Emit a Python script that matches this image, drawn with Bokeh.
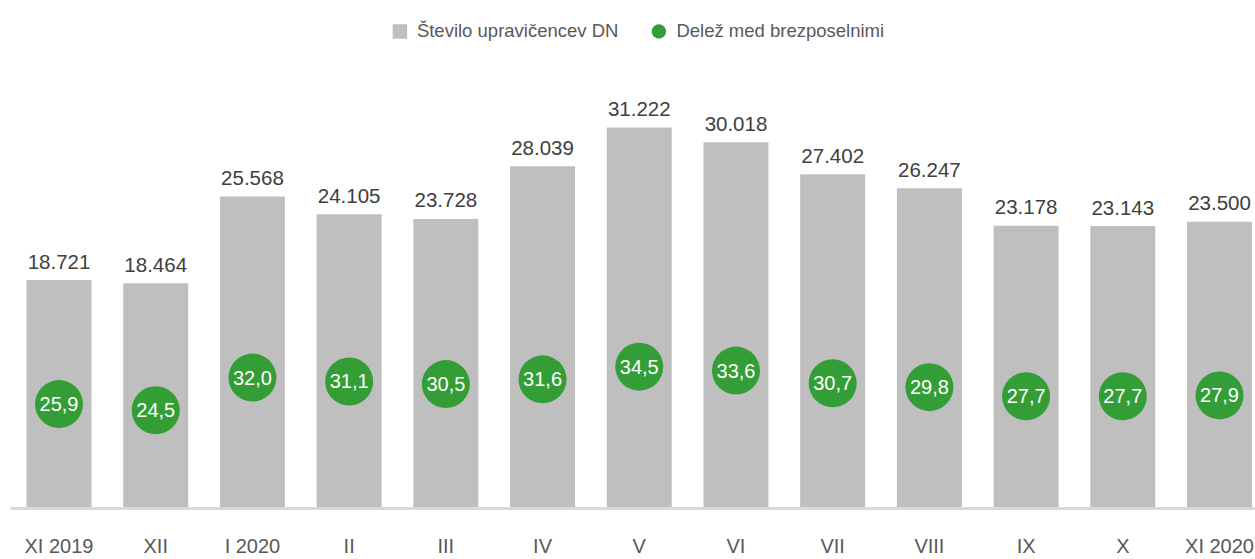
import numpy as np
from bokeh.plotting import figure
from bokeh.models import Range1d, FixedTicker, ColumnDataSource, Legend, LegendItem
from bokeh.core.properties import value
from bokeh.embed import file_html
from bokeh.resources import INLINE

categories = ["XI 2019", "XII", "I 2020", "II", "III", "IV", "V", "VI", "VII", "VIII", "IX", "X", "XI 2020"]
recipients = [18721, 18464, 25568, 24105, 23728, 28039, 31222, 30018, 27402, 26247, 23178, 23143, 23500]
share = [25.9, 24.5, 32.0, 31.1, 30.5, 31.6, 34.5, 33.6, 30.7, 29.8, 27.7, 27.7, 27.9]

FONT = "Liberation Sans"
BAR = "#bfbfbf"
GREEN = "#339e35"

xs = list(range(len(categories)))
src = ColumnDataSource(dict(
    x=xs,
    v=recipients,
    s=share,
    vlab=[f"{v:,}".replace(",", ".") for v in recipients],
    slab=[f"{v:.1f}".replace(".", ",") for v in share],
))

p = figure(width=1255, height=559, output_backend="svg", toolbar_location=None,
           x_range=Range1d(-0.5016, 12.372), y_range=Range1d(0, 41633),
           min_border_left=10, min_border_right=0, min_border_top=0, min_border_bottom=42,
           y_axis_location=None, outline_line_color=None)
p.extra_y_ranges = {"share": Range1d(1.92, 118.63)}
p.xgrid.visible = False
p.ygrid.visible = False

p.vbar(x="x", top="v", width=0.672, fill_color=BAR, line_color=None, source=src)
p.text(x="x", y="v", text="vlab", source=src, text_align="center", text_baseline="alphabetic",
       y_offset=-18.5, text_font=value(FONT), text_font_size="20.5px", text_color="#404040")
p.scatter(x="x", y="s", y_range_name="share", source=src, size=48, marker="circle",
          fill_color=GREEN, line_color=None)
p.text(x="x", y="s", y_range_name="share", text="slab", source=src, text_align="center",
       text_baseline="middle", text_font=value(FONT), text_font_size="20px", text_color="white")

ax = p.xaxis[0]
ax.ticker = FixedTicker(ticks=xs)
ax.major_label_overrides = {i: c for i, c in enumerate(categories)}
ax.major_tick_line_color = None
ax.minor_tick_line_color = None
ax.axis_line_color = "#d9d9d9"
ax.axis_line_width = 3
ax.major_label_text_font = FONT
ax.major_label_text_font_size = "20px"
ax.major_label_text_color = "#595959"
ax.major_label_standoff = 20

nan_src = ColumnDataSource(dict(x=np.array([np.nan]), y=np.array([np.nan])))
sq = p.scatter(x="x", y="y", source=nan_src, marker="square", fill_color=BAR, line_color=None)
ci = p.scatter(x="x", y="y", source=nan_src, marker="circle", fill_color=GREEN, line_color=None)
legend = Legend(items=[LegendItem(label="Število upravičencev DN", renderers=[sq]),
                       LegendItem(label="Delež med brezposelnimi", renderers=[ci])],
                location="top_center", orientation="horizontal",
                glyph_width=36, glyph_height=36, label_standoff=-6, spacing=22,
                padding=10, margin=13, border_line_color=None, background_fill_alpha=0,
                label_text_font=FONT, label_text_font_size="18.5px", label_text_color="#595959")
p.add_layout(legend, "center")

open("out.html", "w").write(file_html(p, INLINE))
